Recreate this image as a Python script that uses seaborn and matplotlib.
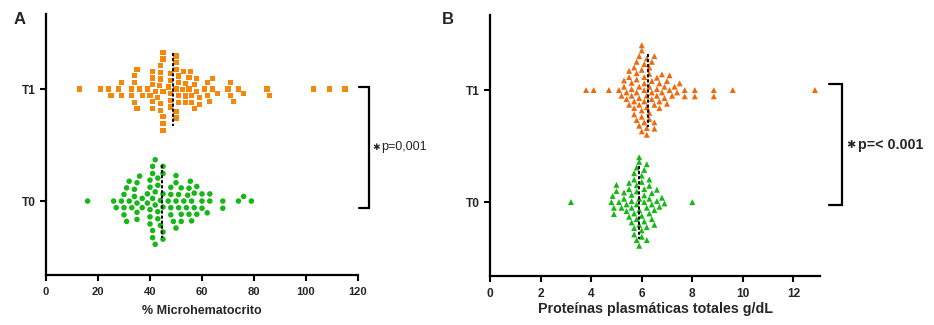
import numpy as np
import pandas as pd
import matplotlib
matplotlib.use("Agg")
import matplotlib.pyplot as plt
import seaborn as sns

# ---------------- data ----------------
groups = ["T1", "T0"]

hct_t1 = [45,
          45, 50,
          44, 48, 50, 52.5,
          34, 41, 43.5, 45, 48, 50, 53.5, 56, 58,
          29, 33, 35, 37, 40, 42, 44, 48, 51, 55, 57, 62, 64, 71,
          13, 21, 28, 34, 36, 39, 41, 43, 45, 48, 51, 53.5, 55.5, 59, 61, 63, 66, 70, 72, 74, 76, 86, 103, 109, 115,
          25, 24, 85,
          29, 34, 41, 44, 47, 51, 53.5, 56, 58, 62, 64, 71,
          33, 35, 41, 44, 48, 50, 55, 57, 59,
          41, 44, 50, 51,
          45, 50, 53,
          45]

hct_t0 = [41,
          39, 41,
          42, 45, 51, 54.5, 57,
          31, 35, 41, 43, 45, 48, 55.5,
          27, 30, 34, 35, 40, 42, 45, 47, 49, 51, 52, 56, 58, 60, 63,
          16, 26, 29, 31, 33, 35, 37, 40, 43, 45, 48, 50, 52, 54, 56, 58, 60, 62, 68, 74, 76, 79,
          68,
          30, 32, 35, 37, 39, 41, 43, 45, 48, 50, 53, 60, 63,
          30, 32, 34, 36, 40, 42, 44, 45, 48, 50, 52, 55,
          40, 42, 44, 50, 55, 57,
          40, 43,
          41]

prot_t1 = [3.8, 4.1, 4.7, 5.1, 5.2, 5.3, 5.3, 5.4, 5.4, 5.5, 5.5, 5.5, 5.6, 5.6, 5.6,
           5.7, 5.7, 5.7, 5.7, 5.8, 5.8, 5.8, 5.8, 5.8, 5.9, 5.9, 5.9, 5.9, 5.9,
           6.0, 6.0, 6.0, 6.0, 6.0, 6.0, 6.1, 6.1, 6.1, 6.1, 6.1, 6.1,
           6.2, 6.2, 6.2, 6.2, 6.2, 6.3, 6.3, 6.3, 6.3, 6.3, 6.4, 6.4, 6.4, 6.4,
           6.5, 6.5, 6.5, 6.5, 6.6, 6.6, 6.6, 6.7, 6.7, 6.7, 6.8, 6.8, 6.9, 6.9,
           7.0, 7.0, 7.1, 7.1, 7.2, 7.3, 7.4, 7.5, 7.7, 7.7, 8.1, 8.1, 8.85, 8.85, 9.6, 12.85]

prot_t0 = [3.2, 4.8, 4.85, 4.9, 4.9, 5.0, 5.0, 5.1, 5.2, 5.3, 5.3, 5.4, 5.4, 5.5, 5.5, 5.5,
           5.6, 5.6, 5.6, 5.6, 5.7, 5.7, 5.7, 5.7, 5.7, 5.8, 5.8, 5.8, 5.8, 5.8, 5.8,
           5.9, 5.9, 5.9, 5.9, 5.9, 5.9, 6.0, 6.0, 6.0, 6.0, 6.0, 6.1, 6.1, 6.1, 6.1, 6.1,
           6.2, 6.2, 6.2, 6.2, 6.3, 6.3, 6.3, 6.3, 6.4, 6.4, 6.4, 6.5, 6.5, 6.6, 6.6,
           6.7, 6.8, 6.9, 8.0]

medians_hct = [49, 44.5]     # T1, T0
medians_prot = [6.25, 5.9]   # T1, T0

xlabel_a = "% Microhematocrito"
xlabel_b = "Proteínas plasmáticas totales g/dL"
ptext_a = "p=0,001"
ptext_b = "p=< 0.001"

# ---------------- style ----------------
sns.set_theme(style="ticks")
plt.rcParams["font.family"] = ["Liberation Sans", "DejaVu Sans"]

orange_a = "#F5870C"
orange_b = "#EC6A10"
green = "#16B716"

fig = plt.figure(figsize=(9.34, 3.25), dpi=100)
ax_a = fig.add_axes([46 / 934, 1 - 275 / 325, 312 / 934, 261 / 325])
ax_b = fig.add_axes([490 / 934, 1 - 276 / 325, 330 / 934, 261 / 325])

df_a = pd.DataFrame({"v": hct_t1 + hct_t0,
                     "g": ["T1"] * len(hct_t1) + ["T0"] * len(hct_t0)})
df_b = pd.DataFrame({"v": prot_t1 + prot_t0,
                     "g": ["T1"] * len(prot_t1) + ["T0"] * len(prot_t0)})

sns.swarmplot(data=df_a[df_a.g == "T1"], x="v", y="g", order=groups, ax=ax_a,
              marker="s", color=orange_a, size=3.7, linewidth=1.0, edgecolor="none")
sns.swarmplot(data=df_a[df_a.g == "T0"], x="v", y="g", order=groups, ax=ax_a,
              marker="o", color=green, size=4.0, linewidth=0.9, edgecolor="none")
sns.swarmplot(data=df_b[df_b.g == "T1"], x="v", y="g", order=groups, ax=ax_b,
              marker="^", color=orange_b, size=4.3, linewidth=0.0, edgecolor="none")
sns.swarmplot(data=df_b[df_b.g == "T0"], x="v", y="g", order=groups, ax=ax_b,
              marker="^", color=green, size=4.3, linewidth=0.0, edgecolor="none")

for ax, meds in ((ax_a, medians_hct), (ax_b, medians_prot)):
    for i, m in enumerate(meds):
        ax.plot([m, m], [i - 0.32, i + 0.33], color="black", lw=1.4,
                linestyle=(0, (1.6, 1.0)), zorder=5)

ax_a.set_xlim(0, 120)
ax_a.set_xticks([0, 20, 40, 60, 80, 100, 120])
ax_b.set_xlim(0, 13.05)
ax_b.set_xticks([0, 2, 4, 6, 8, 10, 12])

for ax, xsize in ((ax_a, 8), (ax_b, 8.6)):
    ax.set_ylim(1.66, -0.67)
    sns.despine(ax=ax)
    for s in ("left", "bottom"):
        ax.spines[s].set_linewidth(1.6)
        ax.spines[s].set_color("black")
    ax.tick_params(axis="both", length=4.5, width=1.5, color="black", pad=3)
    ax.tick_params(axis="y", labelsize=8.6)
    ax.tick_params(axis="x", labelsize=xsize, pad=4)
    for lab in ax.get_xticklabels() + ax.get_yticklabels():
        lab.set_fontweight("bold")
    ax.set_ylabel("")
    ax.grid(False)

ax_a.set_xlabel(xlabel_a, fontsize=9, fontweight="bold", labelpad=6)
ax_b.set_xlabel(xlabel_b, fontsize=10.3, fontweight="bold", labelpad=1.5)

# significance brackets
ax_a.plot([120.3, 124.2, 124.2, 120.3], [-0.02, -0.02, 1.06, 1.06],
          color="black", lw=1.6, clip_on=False, solid_joinstyle="miter")
ax_a.text(125.4, 0.52, "\u2731", fontsize=6.5, ha="left", va="center",
          family=["DejaVu Sans"], clip_on=False)
ax_a.text(129.0, 0.52, ptext_a, fontsize=9, ha="left", va="center", clip_on=False)

ax_b.plot([13.4, 13.92, 13.92, 13.4], [-0.05, -0.05, 1.03, 1.03],
          color="black", lw=1.6, clip_on=False, solid_joinstyle="miter")
ax_b.text(14.08, 0.49, "\u2731", fontsize=8, ha="left", va="center",
          family=["DejaVu Sans"], fontweight="bold", clip_on=False)
ax_b.text(14.55, 0.49, ptext_b, fontsize=10.3, ha="left", va="center",
          fontweight="bold", clip_on=False)

fig.text(14 / 934, 1 - 19 / 325, "A", fontsize=12, fontweight="bold", va="center")
fig.text(442 / 934, 1 - 19 / 325, "B", fontsize=12, fontweight="bold", va="center")

fig.savefig("out.png", dpi=100)
